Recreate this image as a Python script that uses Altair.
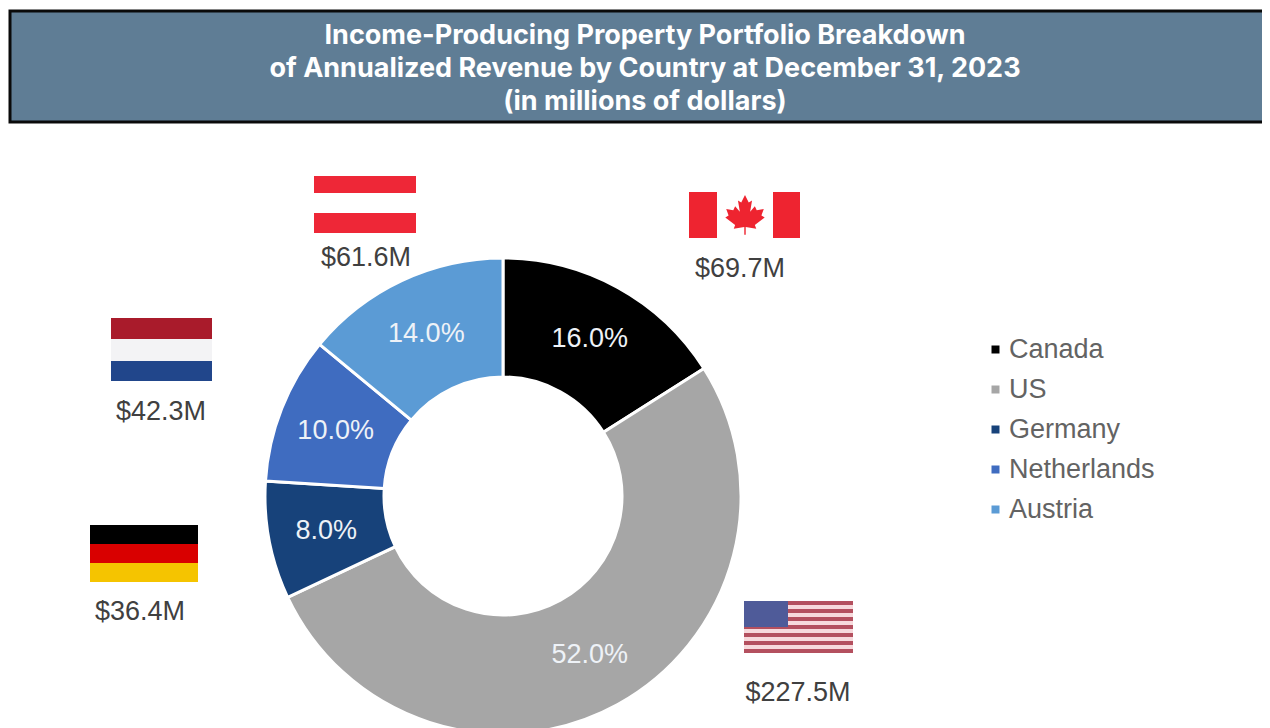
import altair as alt
import pandas as pd

countries = ["Canada", "US", "Germany", "Netherlands", "Austria"]
shares = [16.0, 52.0, 8.0, 10.0, 14.0]
revenues = ["$69.7M", "$227.5M", "$36.4M", "$42.3M", "$61.6M"]
colors = ["#000000", "#a6a6a6", "#17427a", "#3f6cc0", "#5b9bd5"]
title_lines = [
    "Income-Producing Property Portfolio Breakdown",
    "of Annualized Revenue by Country at December 31, 2023",
    "(in millions of dollars)",
]

OX, OY = 8, 8  # page margin: positions below are given in page pixels
CX, CY = 503, 496
one = alt.Data(values=[{"a": 1}])


def box(x0, x1, y0, y1, color, **kw):
    return alt.Chart(one).mark_rect(color=color, **kw).encode(
        x=alt.value(x0 - OX), x2=alt.value(x1 - OX),
        y=alt.value(y0 - OY), y2=alt.value(y1 - OY),
    )


def label(x, y, text, color, size, font="Liberation Sans", weight="normal", **kw):
    return alt.Chart(one).mark_text(
        text=text, color=color, fontSize=size, font=font, fontWeight=weight,
        align="center", baseline="middle", **kw,
    ).encode(x=alt.value(x - OX), y=alt.value(y - OY))


df = pd.DataFrame({
    "country": countries, "share": shares, "idx": range(5),
    "text": [f"{s:.1f}%" for s in shares],
})

layers = []

# header band
layers.append(alt.Chart(one).mark_rect(
    color="#5f7d95", stroke="#0a0a0a", strokeWidth=3
).encode(x=alt.value(10 - OX), x2=alt.value(1290), y=alt.value(11 - OY), y2=alt.value(122 - OY)))
for line, y in zip(title_lines, [36, 69, 102]):
    layers.append(label(645, y, line, "#ffffff", 27, "Inter", "bold"))

# donut
arc = alt.Chart(alt.Data(values=df.to_dict("records"))).mark_arc(
    innerRadius=119, outerRadius=238, stroke="#ffffff", strokeWidth=3
).encode(
    theta=alt.Theta("share:Q", stack=True, scale=alt.Scale(domain=[0, 100])),
    order=alt.Order("idx:Q"),
    color=alt.Color(
        "country:N",
        scale=alt.Scale(domain=countries, range=colors),
        sort=countries,
        legend=alt.Legend(
            title=None, orient="none", legendX=982 - OX, legendY=336 - OY,
            symbolType="square", symbolSize=64, symbolStrokeWidth=0,
            labelFont="Liberation Sans", labelFontSize=27, labelColor="#636363",
            rowPadding=12, labelOffset=0, labelLimit=300,
        ),
    ),
    x=alt.value(CX - OX),
    y=alt.value(CY - OY),
)
layers.append(arc)

pct = alt.Chart(alt.Data(values=df.to_dict("records"))).mark_text(
    radius=180, font="Liberation Sans", fontSize=27, color="#eef2f7",
    align="center", baseline="middle", dy=1,
).encode(
    theta=alt.Theta("share:Q", stack=True, scale=alt.Scale(domain=[0, 100])),
    order=alt.Order("idx:Q"),
    detail="country:N",
    text="text:N",
    x=alt.value(CX - OX),
    y=alt.value(CY - OY),
)
layers.append(pct)

# revenue labels
for rev, (x, y) in zip(revenues, [(740, 269), (798, 693), (140, 612), (161, 412), (366, 258)]):
    layers.append(label(x, y, rev, "#404040", 27))

# Austria flag
RED_AT = "#ee2737"
layers += [box(314, 416, 176, 193, RED_AT), box(314, 416, 213, 233, RED_AT)]

# Netherlands flag
layers += [
    box(111, 212, 318, 339, "#a91b2b"),
    box(111, 212, 339, 361, "#f3f3f5"),
    box(111, 212, 361, 381, "#21468b"),
]

# Germany flag
layers += [
    box(90, 198, 525, 544, "#000000"),
    box(90, 198, 544, 563, "#d90000"),
    box(90, 198, 563, 582, "#f5c400"),
]

# Canada flag
RED_CA = "#ee2430"
layers += [box(689, 717, 192, 238, RED_CA), box(773, 800, 192, 238, RED_CA)]
leaf = ("M0,-0.9 L0.16,-0.58 L0.3,-0.66 L0.22,-0.18 L0.42,-0.42 L0.5,-0.24 L0.8,-0.3 "
        "L0.7,-0.02 L0.84,0.06 L0.42,0.38 L0.48,0.54 L0.03,0.47 L0.03,0.8 L-0.03,0.8 L-0.03,0.47 "
        "L-0.48,0.54 L-0.42,0.38 L-0.84,0.06 L-0.7,-0.02 L-0.8,-0.3 L-0.5,-0.24 L-0.42,-0.42 "
        "L-0.22,-0.18 L-0.3,-0.66 L-0.16,-0.58 Z")
layers.append(alt.Chart(one).mark_point(
    shape=leaf, size=2200, filled=True, color=RED_CA, opacity=1
).encode(x=alt.value(745 - OX), y=alt.value(216 - OY)))

# US flag
layers.append(box(744, 853, 601, 653, "#f7d9dc"))
for i in range(7):
    top = 601 + i * 8
    layers.append(box(744, 853, top, top + 4, "#b4505f"))
layers.append(box(744, 788, 601, 627, "#4f5b99"))

chart = alt.layer(*layers).resolve_scale(theta="shared").properties(
    width=1254, height=720, padding=0,
    autosize=alt.AutoSizeParams(type="none"),
    background="#ffffff",
).configure_view(stroke=None)

chart.save("out.html", embed_options={"renderer": "svg", "actions": False})
